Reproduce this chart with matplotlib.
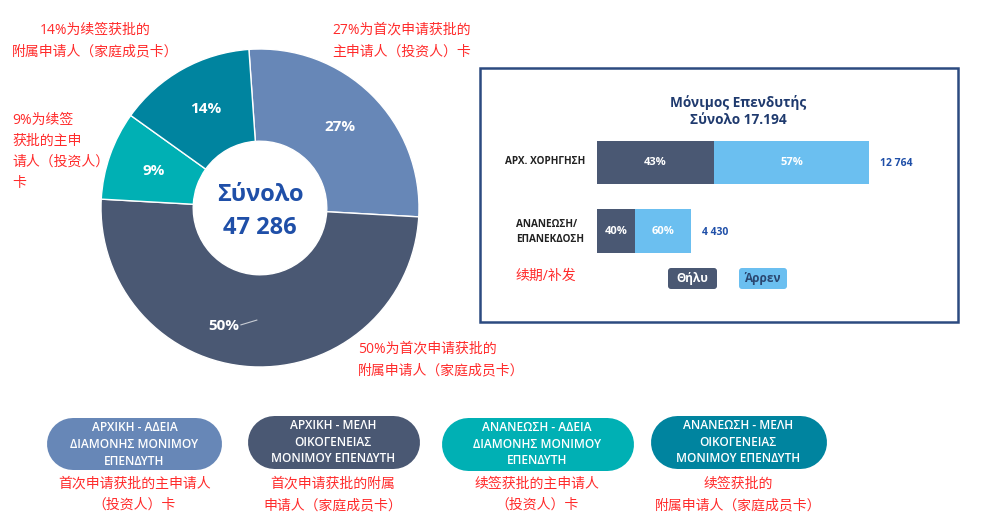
import matplotlib
matplotlib.use('Agg')
import matplotlib.pyplot as plt
from matplotlib.patches import FancyBboxPatch, Rectangle

plt.rcParams['font.family'] = ['Open Sans', 'Noto Sans CJK SC', 'DejaVu Sans']

# donut data (clockwise from top)
pie_values = [27, 50, 9, 14]
pie_labels = ['27%', '50%', '9%', '14%']
pie_colors = ['#6787b7', '#4a5873', '#00b0b4', '#00849f']
total_all = '47 286'

# bar panel data
bar_cats = ['ΑΡΧ. ΧΟΡΗΓΗΣΗ', 'ΑΝΑΝΕΩΣΗ/\nΕΠΑΝΕΚΔΟΣΗ']
bar_totals = [12764, 4430]
bar_total_labels = ['12 764', '4 430']
female_pct = [43, 40]
male_pct = [57, 60]

legend_gr = ['ΑΡΧΙΚΗ - ΑΔΕΙΑ\nΔΙΑΜΟΝΗΣ ΜΟΝΙΜΟΥ\nΕΠΕΝΔΥΤΗ',
             'ΑΡΧΙΚΗ - ΜΕΛΗ\nΟΙΚΟΓΕΝΕΙΑΣ\nΜΟΝΙΜΟΥ ΕΠΕΝΔΥΤΗ',
             'ΑΝΑΝΕΩΣΗ - ΑΔΕΙΑ\nΔΙΑΜΟΝΗΣ ΜΟΝΙΜΟΥ\nΕΠΕΝΔΥΤΗ',
             'ΑΝΑΝΕΩΣΗ - ΜΕΛΗ\nΟΙΚΟΓΕΝΕΙΑΣ\nΜΟΝΙΜΟΥ ΕΠΕΝΔΥΤΗ']
legend_cn = ['首次申请获批的主申请人\n（投资人）卡',
             '首次申请获批的附属\n申请人（家庭成员卡）',
             '续签获批的主申请人\n（投资人）卡',
             '续签获批的\n附属申请人（家庭成员卡）']
legend_colors = ['#6787b7', '#4a5873', '#00b0b4', '#00849f']

red = '#ff2b2b'
blue = '#1f4fa8'
navy = '#1f3a6e'
dark = '#4a5873'
light = '#6bbff0'

W, H = 985, 515
fig = plt.figure(figsize=(W / 100, H / 100), dpi=100)

# overlay axes in pixel coords
ov = fig.add_axes([0, 0, 1, 1])
ov.set_xlim(0, W)
ov.set_ylim(H, 0)
ov.axis('off')

# donut
cx, cy, r = 260, 208, 159
pax = fig.add_axes([(cx - r) / W, (H - cy - r) / H, 2 * r / W, 2 * r / H])
pax.set_facecolor('none')
wedges, _ = pax.pie(pie_values, colors=pie_colors, startangle=94, counterclock=False,
                    radius=1, wedgeprops=dict(width=0.58, edgecolor='white', linewidth=1))
pax.set_xlim(-1, 1)
pax.set_ylim(-1, 1)
label_pos = [(0.5, 0.51), (-0.23, -0.74), (-0.67, 0.23), (-0.34, 0.62)]
for lab, (lx, ly) in zip(pie_labels, label_pos):
    pax.text(lx, ly, lab, color='white', fontsize=11, fontweight='bold', ha='center', va='center')
pax.plot([-0.12, -0.02], [-0.735, -0.705], color='#c8ccd4', lw=0.8)
pax.text(0, -0.02, 'Σύνολο\n' + total_all, color=blue, fontsize=17, fontweight='bold',
         ha='center', va='center', linespacing=1.5)

# red annotations around donut
ov.text(95, 41, '14%为续签获批的\n附属申请人（家庭成员卡）', color=red, fontsize=10,
        ha='center', va='center', linespacing=1.6)
ov.text(332, 41, '27%为首次申请获批的\n主申请人（投资人）卡', color=red, fontsize=10,
        ha='left', va='center', linespacing=1.6)
ov.text(12, 152, '9%为续签\n获批的主申\n请人（投资人）\n卡', color=red, fontsize=10,
        ha='left', va='center', linespacing=1.55)
ov.text(358, 360, '50%为首次申请获批的\n附属申请人（家庭成员卡）', color=red, fontsize=10,
        ha='left', va='center', linespacing=1.6)

# right panel box
ov.add_patch(Rectangle((480, 68), 478, 254, fill=False, edgecolor='#2c4a80', lw=1.8))
ov.text(738, 111, 'Μόνιμος Επενδυτής\nΣύνολο 17.194', color=navy, fontsize=9.8,
        fontweight='bold', ha='center', va='center', linespacing=1.35)

bx0, bpx = 597, 272
row_h = 68.5
bax = fig.add_axes([bx0 / W, (H - (162.5 + 1.5 * row_h)) / H, bpx / W, 2 * row_h / H])
bax.set_xlim(0, bar_totals[0])
bax.set_ylim(1.5, -0.5)
bax.axis('off')
ys = list(range(len(bar_cats)))
fem = [t * p / 100 for t, p in zip(bar_totals, female_pct)]
mal = [t * p / 100 for t, p in zip(bar_totals, male_pct)]
bax.barh(ys, fem, height=0.63, color=dark)
bax.barh(ys, mal, left=fem, height=0.63, color=light)
for y, f, m, fp, mp, t, tl in zip(ys, fem, mal, female_pct, male_pct, bar_totals, bar_total_labels):
    bax.text(f / 2, y, f'{fp}%', color='white', fontsize=8, fontweight='bold', ha='center', va='center')
    bax.text(f + m / 2, y, f'{mp}%', color='white', fontsize=8, fontweight='bold', ha='center', va='center')
    bax.text(t + bar_totals[0] * 0.04, y + 0.02, tl, color=blue, fontsize=7.5, fontweight='bold',
             ha='left', va='center', clip_on=False)
ov.text(585, 162, bar_cats[0], color='#222222', fontsize=7.2, fontweight='bold', ha='right', va='center')
ov.text(516, 232, bar_cats[1], color='#222222', fontsize=7.2, fontweight='bold', ha='left', va='center',
        linespacing=1.4)
ov.text(516, 276, '续期/补发', color=red, fontsize=10, ha='left', va='center')

# gender legend buttons
ov.add_patch(FancyBboxPatch((668, 268), 49, 21, boxstyle='round,pad=0,rounding_size=3',
                            facecolor=dark, edgecolor='none'))
ov.text(692.5, 278.5, 'Θήλυ', color='white', fontsize=8.5, fontweight='bold', ha='center', va='center')
ov.add_patch(FancyBboxPatch((739, 268), 48, 21, boxstyle='round,pad=0,rounding_size=3',
                            facecolor=light, edgecolor='none'))
ov.text(763, 278.5, 'Άρρεν', color='#2a4670', fontsize=8.5, fontweight='bold', ha='center', va='center')

# bottom legend pills (capsules drawn as thick round-capped lines)
pills = [(47, 418, 175, 52), (247, 415, 172, 53), (441, 417, 192, 53), (650, 415, 176, 53)]
for (px, py, pw, ph), col, gr, cn in zip(pills, legend_colors, legend_gr, legend_cn):
    mid = py + ph / 2
    ov.plot([px + ph / 2, px + pw - ph / 2], [mid, mid], color=col, lw=ph * 0.72,
            solid_capstyle='round')
    ov.text(px + pw / 2, mid + 0.5, gr, color='white', fontsize=8.6, fontweight='semibold',
            ha='center', va='center', linespacing=1.38)
    ov.text(px + pw / 2, 495, cn, color=red, fontsize=10, ha='center', va='center', linespacing=1.55)

fig.savefig('out.png', dpi=100)
